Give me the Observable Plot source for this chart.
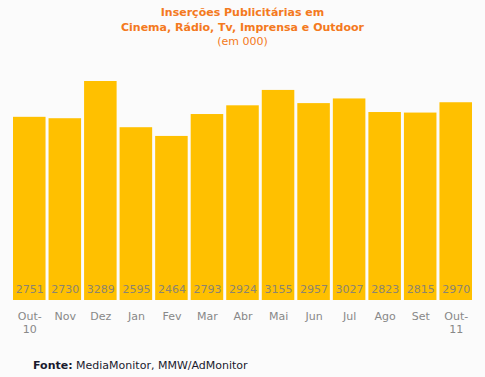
<!DOCTYPE html>
<html>
<head>
<meta charset="utf-8">
<script src="https://cdn.jsdelivr.net/npm/d3@7"></script>
<script src="https://cdn.jsdelivr.net/npm/@observablehq/plot@0.6"></script>
<style>
  html, body { margin: 0; padding: 0; background: #fbfbfb; }
  #wrap { position: relative; width: 485px; height: 377px; overflow: hidden; font-family: "DejaVu Sans", Verdana, sans-serif; }
  #title { position: absolute; left: 0; top: 6px; width: 485px; text-align: center; color: #f47920; font-size: 11px; line-height: 14.5px; }
  #title b { font-weight: bold; }
  #caption { position: absolute; left: 33px; top: 359px; font-size: 11px; color: #1a1a2e; }
  #chart { position: absolute; left: 0; top: 0; }
</style>
</head>
<body>
<div id="wrap">
  <div id="chart"></div>
  <div id="title"><b>Inserções Publicitárias em</b><br><b>Cinema, Rádio, Tv, Imprensa e Outdoor</b><br>(em 000)</div>
  <div id="caption"><b>Fonte:</b> MediaMonitor, MMW/AdMonitor</div>
</div>
<script>
const months = ["Out-\n10", "Nov", "Dez", "Jan", "Fev", "Mar", "Abr", "Mai", "Jun", "Jul", "Ago", "Set", "Out-\n11"];
const values = [2751, 2730, 3289, 2595, 2464, 2793, 2924, 3155, 2957, 3027, 2823, 2815, 2970];

const data = months.map((m, i) => ({month: m, value: values[i]}));

const chart = Plot.plot({
  width: 485,
  height: 377,
  marginLeft: 11.5,
  marginRight: 11.5,
  marginTop: 81,
  marginBottom: 77,
  style: {background: "transparent", fontFamily: "\"DejaVu Sans\", Verdana, sans-serif"},
  x: {domain: months, padding: 0, round: false, label: null},
  y: {domain: [0, 3289], axis: null},
  marks: [
    Plot.barY(data, {x: "month", y: "value", fill: "#ffc000", insetLeft: 1.5, insetRight: 1.5}),
    Plot.text(data, {x: "month", y: 0, text: d => String(d.value), dy: -11, fill: "#8c8470", fontSize: 11}),
    Plot.axisX({tickSize: 0, tickPadding: 10, fontSize: 11, lineHeight: 1.2, color: "#888888", label: null})
  ]
});
document.getElementById("chart").appendChild(chart);
</script>
</body>
</html>
